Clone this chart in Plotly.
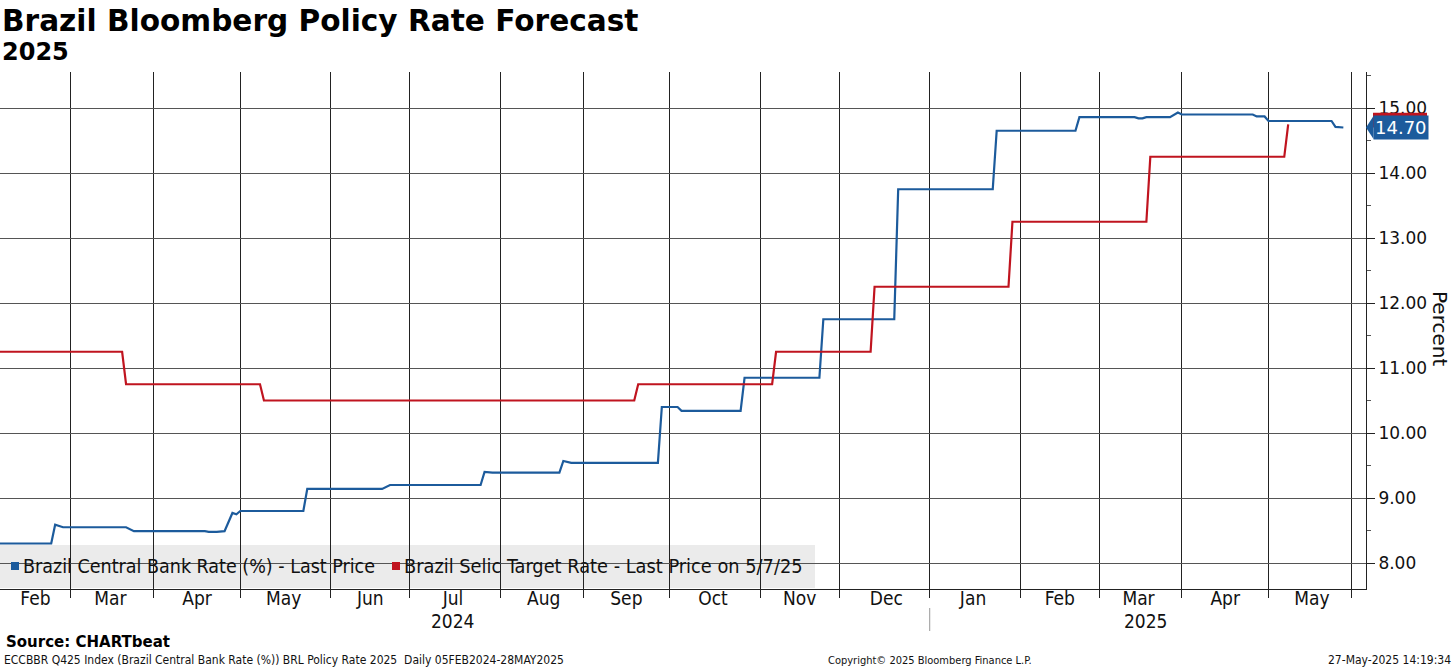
import plotly.graph_objects as go

# ---------------- data ----------------
blue_dates = [
    "2024-02-05", "2024-02-23", "2024-02-26", "2024-02-28", "2024-03-21", "2024-03-25",
    "2024-04-18", "2024-04-19", "2024-04-23", "2024-04-24", "2024-04-25", "2024-04-29",
    "2024-04-30", "2024-05-01", "2024-05-23", "2024-05-24", "2024-06-20", "2024-06-24",
    "2024-07-25", "2024-07-26", "2024-07-30", "2024-08-22", "2024-08-23", "2024-08-27",
    "2024-09-26", "2024-09-27", "2024-10-03", "2024-10-04", "2024-10-25", "2024-10-28",
    "2024-11-22", "2024-11-25", "2024-12-19", "2024-12-20", "2025-01-23", "2025-01-24",
    "2025-02-21", "2025-02-24", "2025-03-14", "2025-03-17", "2025-03-18", "2025-03-19",
    "2025-03-27", "2025-03-31", "2025-04-01", "2025-04-25", "2025-04-28", "2025-04-30",
    "2025-05-01", "2025-05-23", "2025-05-26", "2025-05-28",
]
blue_values = [
    8.30, 8.30, 8.59, 8.55, 8.55, 8.49,
    8.49, 8.48, 8.48, 8.49, 8.49, 8.77,
    8.75, 8.80, 8.80, 9.14, 9.14, 9.20,
    9.20, 9.40, 9.39, 9.39, 9.57, 9.54,
    9.54, 10.40, 10.40, 10.34, 10.34, 10.85,
    10.85, 11.75, 11.75, 13.75, 13.75, 14.65,
    14.65, 14.86, 14.86, 14.84, 14.84, 14.86,
    14.86, 14.93, 14.90, 14.90, 14.87, 14.87,
    14.80, 14.80, 14.71, 14.70,
]
red_dates = [
    "2024-02-05", "2024-03-20", "2024-03-21", "2024-05-08", "2024-05-09", "2024-09-18",
    "2024-09-19", "2024-11-06", "2024-11-07", "2024-12-11", "2024-12-12", "2025-01-29",
    "2025-01-30", "2025-03-19", "2025-03-20", "2025-05-07", "2025-05-08",
]
red_values = [
    11.25, 11.25, 10.75, 10.75, 10.50, 10.50,
    10.75, 10.75, 11.25, 11.25, 12.25, 12.25,
    13.25, 13.25, 14.25, 14.25, 14.75,
]
blue_name = "Brazil Central Bank Rate (%) - Last Price"
red_name = "Brazil Selic Target Rate - Last Price on 5/7/25"
y_ticks = [8, 9, 10, 11, 12, 13, 14, 15]
month_labels = ["Feb", "Mar", "Apr", "May", "Jun", "Jul", "Aug", "Sep", "Oct", "Nov", "Dec",
                "Jan", "Feb", "Mar", "Apr", "May"]
month_label_dates = ["2024-02-19", "2024-03-15", "2024-04-16", "2024-05-16", "2024-06-17",
                     "2024-07-16", "2024-08-16", "2024-09-16", "2024-10-16", "2024-11-15",
                     "2024-12-17", "2025-01-16", "2025-02-17", "2025-03-17", "2025-04-16",
                     "2025-05-16"]
year_labels = ["2024", "2025"]
year_label_dates = ["2024-07-16", "2025-03-19"]
year_split_date = "2025-01-01"
last_blue_label = "14.70"

BLUE = "#1c5b9c"
RED = "#c0141f"
COND = "DejaVu Sans Condensed, Liberation Sans Narrow, Roboto Condensed, Arial Narrow, sans-serif"
SANS = "DejaVu Sans, Verdana, sans-serif"

W, H = 1456, 668
PL, PR, PT, PB = 0, 1366, 72, 589
Y_RANGE = [7.6, 15.554]
PX_PER_UNIT = (PB - PT) / (Y_RANGE[1] - Y_RANGE[0])


def px_x(px):
    return (px - PL) / (PR - PL)


def px_y(py):
    return (PB - py) / (PB - PT)


fig = go.Figure()
fig.add_trace(go.Scatter(x=blue_dates, y=blue_values, mode="lines", name=blue_name,
                         line=dict(color=BLUE, width=2.2)))
fig.add_trace(go.Scatter(x=red_dates, y=red_values, mode="lines", name=red_name,
                         line=dict(color=RED, width=2.2)))

fig.update_layout(
    width=W, height=H,
    margin=dict(l=PL, r=W - PR, t=PT, b=H - PB, autoexpand=False),
    paper_bgcolor="white", plot_bgcolor="white",
    font=dict(family=COND, size=18, color="black"),
    showlegend=False,
    xaxis=dict(
        type="date",
        range=["2024-02-06", "2025-06-04 18:00"],
        rangebreaks=[dict(bounds=["sat", "mon"])],
        tickmode="array", tickvals=month_label_dates, ticktext=month_labels,
        ticks="", showgrid=False, ticklabelstandoff=-8,
        minor=dict(dtick="M1", tick0="2024-01-01", showgrid=True, gridcolor="#222",
                   gridwidth=1, ticks="outside", ticklen=8, tickcolor="#222"),
        showline=True, linecolor="#222", linewidth=1,
        tickfont=dict(family=COND, size=19, color="#111"),
        zeroline=False,
    ),
    yaxis=dict(
        side="right",
        range=Y_RANGE,
        tickvals=y_ticks, tickformat=".2f",
        showgrid=True, gridcolor="#555", gridwidth=1,
        ticks="outside", ticklen=8, tickcolor="#222",
        minor=dict(dtick=0.5, tick0=7.5, ticks="outside", ticklen=4, tickcolor="#555", showgrid=False),
        showline=True, linecolor="#222", linewidth=1,
        tickfont=dict(family=SANS, size=17, color="#111"),
        zeroline=False,
    ),
)

# legend band with square swatches (drawn like the original key)
fig.add_shape(type="rect", xref="paper", yref="paper", x0=0, x1=px_x(815),
              y0=px_y(588), y1=px_y(545), fillcolor="#ebebeb", line=dict(width=0), layer="below")
fig.add_shape(type="rect", xref="paper", yref="paper", x0=px_x(11), x1=px_x(19),
              y0=px_y(570), y1=px_y(562), fillcolor=BLUE, line=dict(width=0))
fig.add_shape(type="rect", xref="paper", yref="paper", x0=px_x(392), x1=px_x(400),
              y0=px_y(570), y1=px_y(562), fillcolor=RED, line=dict(width=0))
# year separator below the axis
fig.add_shape(type="line", xref="x", yref="paper", x0=year_split_date, x1=year_split_date,
              y0=px_y(608), y1=px_y(631), line=dict(color="#999", width=1))

# last-value tags: red one (mostly hidden) behind the blue one
half_tag = 11.5 / PX_PER_UNIT
fig.add_shape(type="rect", xref="paper", yref="y", x0=px_x(1373), x1=px_x(1427),
              y0=blue_values[-1], y1=red_values[-1] + half_tag,
              fillcolor=RED, line=dict(width=0))
fig.add_shape(type="path", xref="paper", yref="y",
              path=f"M 1,{blue_values[-1]} L {px_x(1373.5)},{blue_values[-1] + half_tag} "
                   f"L {px_x(1373.5)},{blue_values[-1] - half_tag} Z",
              fillcolor=BLUE, line=dict(width=0))

ann = []
ann.append(dict(text=blue_name, x=px_x(21), y=px_y(566), xref="paper", yref="paper",
                xanchor="left", yanchor="middle", showarrow=False,
                font=dict(family=COND, size=19.5, color="#111")))
ann.append(dict(text=red_name, x=px_x(402), y=px_y(566), xref="paper", yref="paper",
                xanchor="left", yanchor="middle", showarrow=False,
                font=dict(family=COND, size=19.8, color="#111")))
ann.append(dict(text="<b>Brazil Bloomberg Policy Rate Forecast</b>", x=px_x(0), y=px_y(21),
                xref="paper", yref="paper", xanchor="left", yanchor="middle", showarrow=False,
                font=dict(family=SANS, size=29.6, color="black")))
ann.append(dict(text="<b>2025</b>", x=px_x(0), y=px_y(52),
                xref="paper", yref="paper", xanchor="left", yanchor="middle", showarrow=False,
                font=dict(family=SANS, size=24, color="black")))
for lab, d in zip(year_labels, year_label_dates):
    ann.append(dict(text=lab, x=d, y=px_y(621), xref="x", yref="paper", xanchor="center",
                    yanchor="middle", showarrow=False, font=dict(family=COND, size=19, color="#111")))
ann.append(dict(text="Percent", x=px_x(1440), y=px_y(328), xref="paper", yref="paper",
                textangle=90, showarrow=False, xanchor="center", yanchor="middle",
                font=dict(family=SANS, size=20, color="#111")))
ann.append(dict(text=last_blue_label, x=px_x(1373), y=blue_values[-1], xref="paper", yref="y",
                xanchor="left", yanchor="middle", showarrow=False, bgcolor=BLUE,
                borderpad=1, font=dict(family=SANS, size=18, color="white")))
# footer
ann.append(dict(text="<b>Source: CHARTbeat</b>", x=px_x(4), y=px_y(642), xref="paper", yref="paper",
                xanchor="left", yanchor="middle", showarrow=False,
                font=dict(family=SANS, size=15, color="black")))
ann.append(dict(text="ECCBBR Q425 Index (Brazil Central Bank Rate (%)) BRL Policy Rate 2025  Daily 05FEB2024-28MAY2025",
                x=px_x(2), y=px_y(660), xref="paper", yref="paper", xanchor="left", yanchor="middle",
                showarrow=False, font=dict(family=COND, size=12, color="#111")))
ann.append(dict(text="Copyright\u00a9 2025 Bloomberg Finance L.P.", x=px_x(930), y=px_y(660),
                xref="paper", yref="paper", xanchor="center", yanchor="middle", showarrow=False,
                font=dict(family=COND, size=11, color="#111")))
ann.append(dict(text="27-May-2025 14:19:34", x=px_x(1453), y=px_y(660), xref="paper", yref="paper",
                xanchor="right", yanchor="middle", showarrow=False,
                font=dict(family=COND, size=12, color="#111")))
fig.update_layout(annotations=ann)

fig.write_html("out.html", config={"displayModeBar": False},
               post_script="document.body.style.margin='0px';document.body.style.overflow='hidden';")
